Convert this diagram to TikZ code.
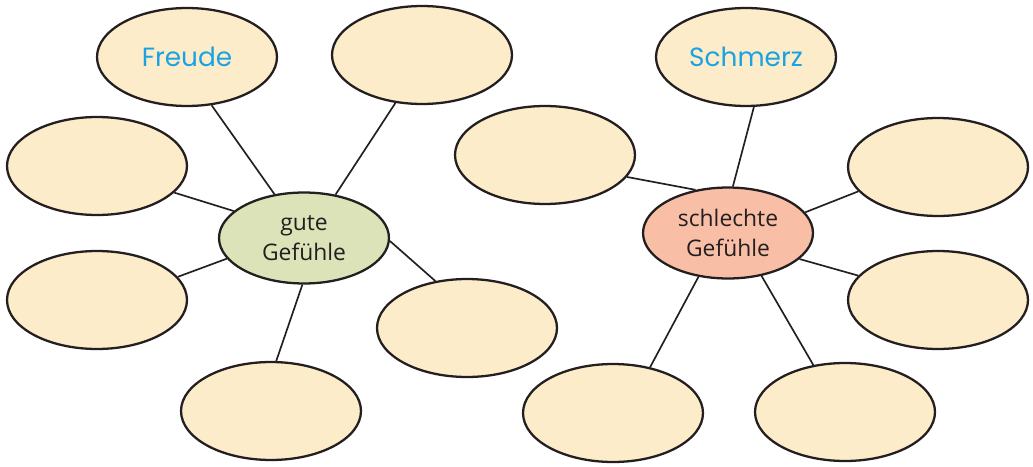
\documentclass[tikz,border=0pt]{standalone}
\usepackage{fontspec}
\setmainfont{Open Sans}
\newfontfamily\handfont{Poppins}
\usetikzlibrary{shapes.geometric}
\definecolor{cCream}{RGB}{253,236,201}
\definecolor{cGood}{RGB}{221,227,184}
\definecolor{cBad}{RGB}{249,191,166}
\definecolor{cBlue}{RGB}{26,163,226}
\definecolor{cLine}{RGB}{35,31,32}
\tikzset{
	bubble/.style ={ellipse, draw=cLine, line width=1.3pt, fill=cCream, minimum width=3.6cm, minimum height=1.96cm, inner sep=0pt},
	hub/.style    ={ellipse, draw=cLine, line width=1.3pt, minimum width=3.4cm, minimum height=1.82cm, align=center, inner sep=0pt, font=\fontsize{13}{17}\selectfont, text=cLine},
	word/.style   ={font=\handfont\fontsize{15}{18}\selectfont, text=cBlue},
	spoke/.style  ={draw=cLine, line width=0.95pt},
}
\begin{document}
\begin{tikzpicture}[x=0.02cm, y=-0.02cm]
	\useasboundingbox (0,0) rectangle (1033,466);
	% gute Gefuehle
	\node[hub, fill=cGood] (good) at (304,238) {gute\\Gefühle};
	\node[bubble, word] (freude) at (187,57) {Freude};
	\node[bubble] (g1) at (422,55) {};
	\node[bubble] (g2) at (97,166) {};
	\node[bubble] (g3) at (97,300) {};
	\node[bubble] (g4) at (467,328) {};
	\node[bubble] (g5) at (271,411) {};
	% schlechte Gefuehle
	\node[hub, fill=cBad] (bad) at (728,233) {schlechte\\Gefühle};
	\node[bubble, word] (schmerz) at (746,57) {Schmerz};
	\node[bubble] (b1) at (545,155) {};
	\node[bubble] (b2) at (938,167) {};
	\node[bubble] (b3) at (938,300) {};
	\node[bubble] (b4) at (613,413) {};
	\node[bubble] (b5) at (845,412) {};
	% spokes: hub angle / bubble / bubble angle
	\foreach \a/\n/\b in {124.9/freude/297.2, 54.1/g1/241.6, 159.3/g2/341.1,
		195.8/g3/16.8, 358.2/g4/124.7, 268.4/g5/84.2}
		\draw[spoke] (good.\a) -- (\n.\b);
	\foreach \a/\n/\b in {84.3/schmerz/279.1, 127.5/b1/345.1, 15.5/b2/197.9,
		340.7/b3/163.2, 236.1/b4/51.3, 308.2/b5/124.5}
		\draw[spoke] (bad.\a) -- (\n.\b);
\end{tikzpicture}
\end{document}
